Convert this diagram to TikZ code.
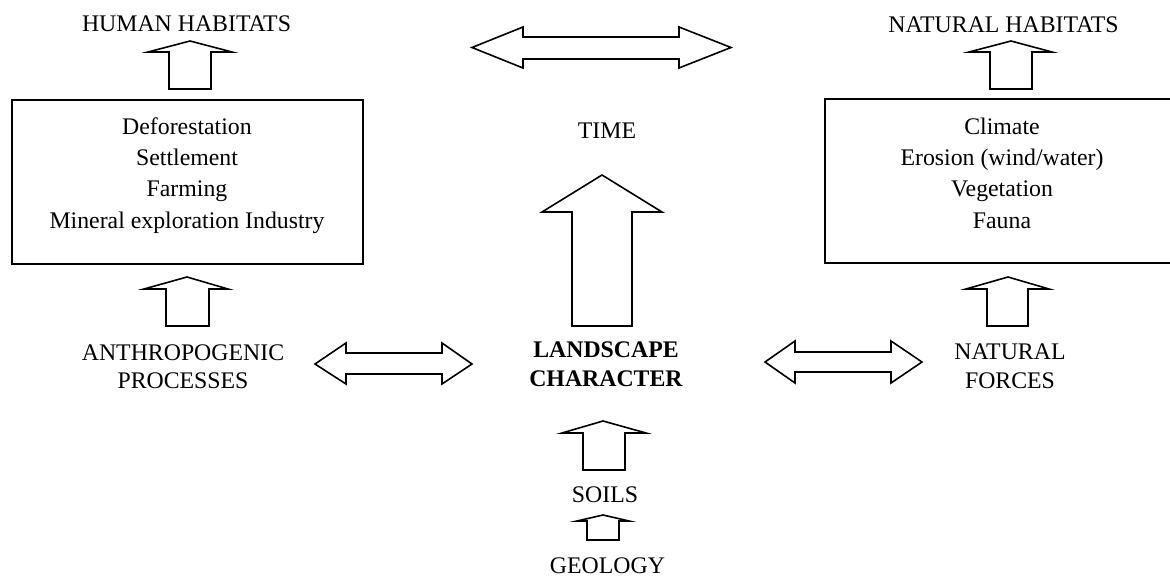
\documentclass[tikz,border=0pt]{standalone}
\usepackage{fontspec}
\setmainfont{Liberation Serif}
\begin{document}
\begin{tikzpicture}[x=1pt,y=-1pt,
  blk/.style={draw=black,line width=1.6pt,line join=miter,fill=white},
  boxstyle/.style={draw=black,line width=1.6pt,inner sep=0pt},
  lbl/.style={font=\fontsize{23.8}{31}\selectfont,inner sep=0pt,anchor=base},
  blbl/.style={font=\fontsize{23.8}{31}\selectfont\bfseries,inner sep=0pt,anchor=base}]
\useasboundingbox (0,0) rectangle (1170,578);
% up block arrow: tipx tipy headbase headL headR shaftL shaftR bottom
\newcommand\upblk[8]{\draw[blk] (#1,#2) -- (#5,#3) -- (#7,#3) -- (#7,#8) -- (#6,#8) -- (#6,#3) -- (#4,#3) -- cycle;}
% double block arrow: x1 yc xL headtop headbot shafttop shaftbot xR x2
\newcommand\dblblk[9]{\draw[blk] (#1,#2) -- (#3,#4) -- (#3,#6) -- (#8,#6) -- (#8,#4) -- (#9,#2) -- (#8,#5) -- (#8,#7) -- (#3,#7) -- (#3,#5) -- cycle;}

% boxes
\node[boxstyle,minimum width=351pt,minimum height=164pt] (lbox) at (187.5,182) {};
\draw[boxstyle] (825,99) rectangle (1190,263);
\coordinate (rbox) at (995,181);

% top labels
\node[lbl] (human) at (186.5,32) {HUMAN HABITATS};
\node[lbl] (nathab) at (1003.5,33) {NATURAL HABITATS};
\node[lbl] (time) at (607,138) {TIME};

% left box text
\node[lbl] (l1) at (187,134) {Deforestation};
\node[lbl] (l2) at (187,165) {Settlement};
\node[lbl] (l3) at (187,196) {Farming};
\node[lbl] (l4) at (187,228) {Mineral exploration Industry};

% right box text
\node[lbl] (r1) at (1002,134) {Climate};
\node[lbl] (r2) at (1002,165) {Erosion (wind/water)};
\node[lbl] (r3) at (1002,196) {Vegetation};
\node[lbl] (r4) at (1002,228) {Fauna};

% middle row labels
\node[lbl] (anth1) at (183,360) {ANTHROPOGENIC};
\node[lbl] (anth2) at (183,388) {PROCESSES};
\node[blbl] (land1) at (606,357) {LANDSCAPE};
\node[blbl] (land2) at (606,386) {CHARACTER};
\node[lbl] (nat1) at (1010,359) {NATURAL};
\node[lbl] (nat2) at (1010,388) {FORCES};

% bottom labels
\node[lbl] (soils) at (605,502) {SOILS};
\node[lbl] (geo) at (607.5,573) {GEOLOGY};

% up arrows
\upblk{190}{41}{52}{148}{232}{169}{211}{89}
\upblk{1011}{41}{52}{969}{1052}{990}{1032}{89}
\upblk{187}{277}{289}{144}{228}{166}{209}{326}
\upblk{1008}{277}{289}{966}{1049}{987}{1028}{326}
\upblk{602}{175}{212}{542}{662}{572}{632}{326}
\upblk{603}{421}{433}{562}{646}{583}{625}{470}
\upblk{603}{515}{521}{577}{629}{587}{619}{540}

% double arrows
\dblblk{472}{47.5}{523}{27}{68}{37}{59}{679}{731}
\dblblk{315}{364}{346}{343}{384}{353}{374}{442}{472}
\dblblk{765}{362}{795}{341}{383}{352}{372}{891}{922}
\end{tikzpicture}
\end{document}
